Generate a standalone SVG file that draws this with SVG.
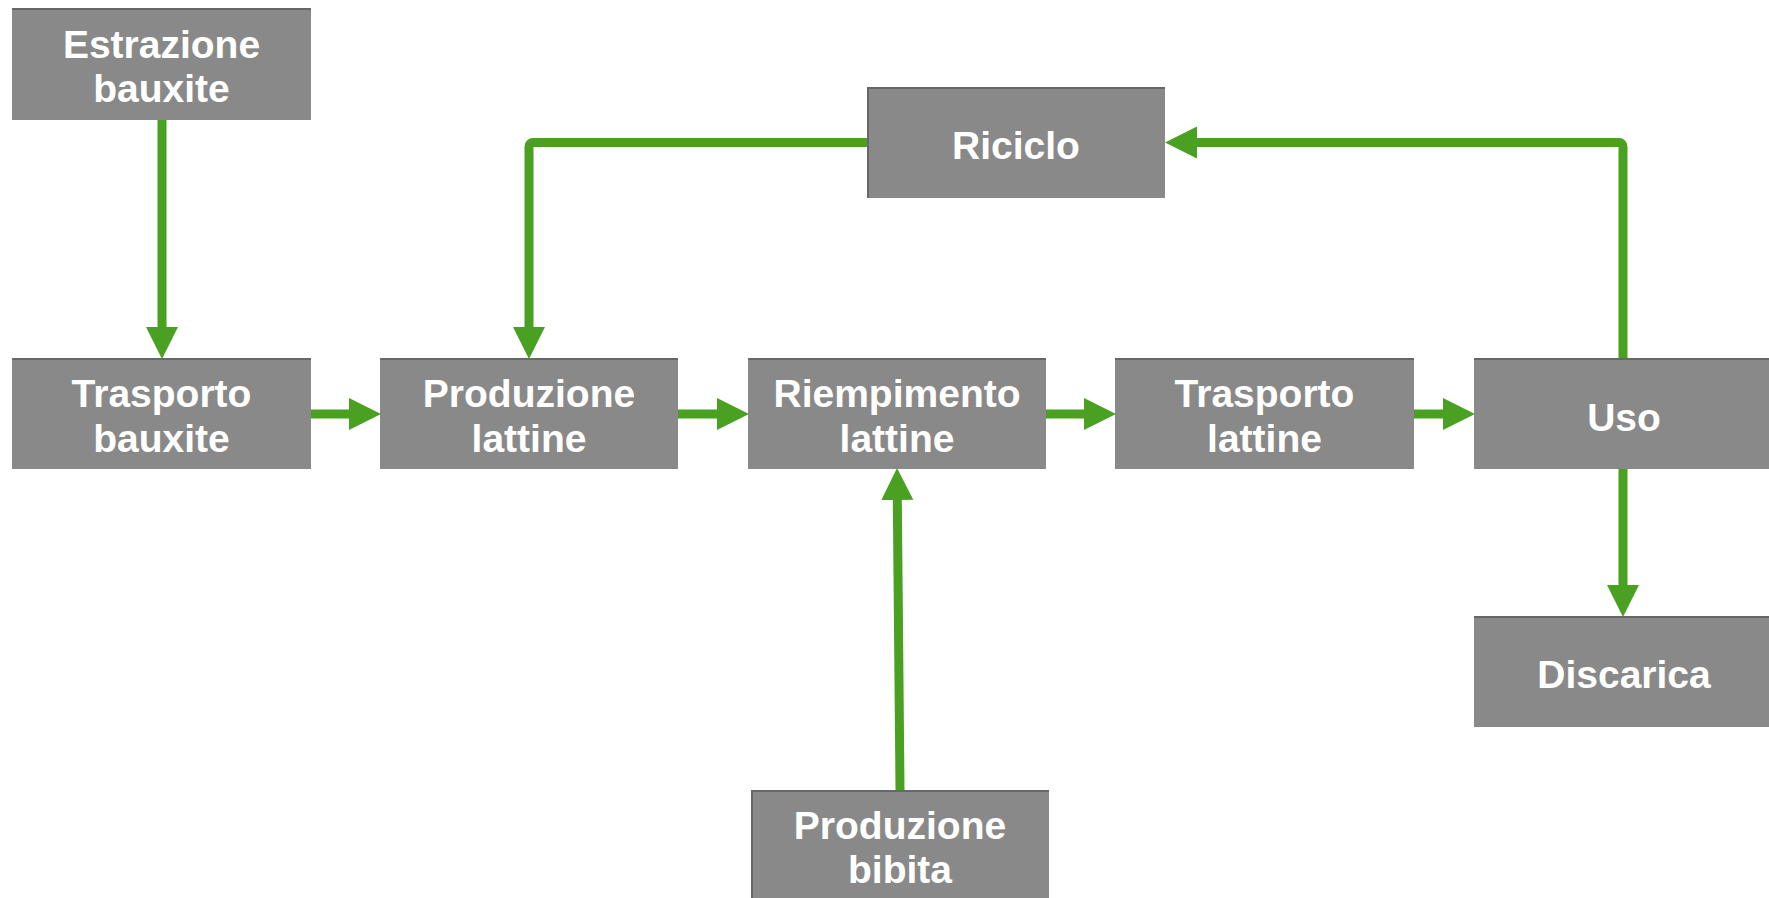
<svg xmlns="http://www.w3.org/2000/svg" width="1769" height="898" viewBox="0 0 1769 898">
  <style>
    .box { fill: #898989; }
    .edge { stroke: #676767; stroke-width: 2; fill: none; }
    .label { font-family: "Liberation Sans", Arial, Helvetica, sans-serif; font-weight: bold; font-size: 39px; fill: #ffffff; text-anchor: middle; }
    .flow { stroke: #49a021; stroke-width: 9; fill: none; stroke-linejoin: round; }
  </style>
  <defs>
    <marker id="head" markerUnits="userSpaceOnUse" markerWidth="33" markerHeight="33" viewBox="0 0 33 33" refX="1" refY="16" orient="auto">
      <path d="M0,0 L32,16 L0,32 Z" fill="#49a021"/>
    </marker>
  </defs>
  <rect width="1769" height="898" fill="#ffffff"/>

  <!-- process steps -->
  <g id="estrazione-bauxite">
    <rect class="box" x="12" y="8" width="299" height="112"/>
    <line class="edge" x1="12" y1="9" x2="311" y2="9"/>
    <text class="label" x="161.5" y="58">Estrazione</text>
    <text class="label" x="161.5" y="102">bauxite</text>
  </g>
  <g id="trasporto-bauxite">
    <rect class="box" x="12" y="358" width="299" height="111"/>
    <line class="edge" x1="12" y1="359" x2="311" y2="359"/>
    <text class="label" x="161.5" y="407">Trasporto</text>
    <text class="label" x="161.5" y="452">bauxite</text>
  </g>
  <g id="produzione-lattine">
    <rect class="box" x="380" y="358" width="298" height="111"/>
    <line class="edge" x1="380" y1="359" x2="678" y2="359"/>
    <text class="label" x="529" y="407">Produzione</text>
    <text class="label" x="529" y="452">lattine</text>
  </g>
  <g id="riempimento-lattine">
    <rect class="box" x="748" y="358" width="298" height="111"/>
    <line class="edge" x1="748" y1="359" x2="1046" y2="359"/>
    <text class="label" x="897" y="407">Riempimento</text>
    <text class="label" x="897" y="452">lattine</text>
  </g>
  <g id="trasporto-lattine">
    <rect class="box" x="1115" y="358" width="299" height="111"/>
    <line class="edge" x1="1115" y1="359" x2="1414" y2="359"/>
    <text class="label" x="1264.5" y="407">Trasporto</text>
    <text class="label" x="1264.5" y="452">lattine</text>
  </g>
  <g id="uso">
    <rect class="box" x="1474" y="358" width="300" height="111"/>
    <line class="edge" x1="1474" y1="359" x2="1774" y2="359"/>
    <text class="label" x="1624" y="431">Uso</text>
  </g>
  <g id="riciclo">
    <rect class="box" x="867" y="87" width="298" height="111"/>
    <line class="edge" x1="867" y1="88" x2="1165" y2="88"/>
    <line class="edge" x1="868" y1="87" x2="868" y2="198"/>
    <text class="label" x="1016" y="159">Riciclo</text>
  </g>
  <g id="discarica">
    <rect class="box" x="1474" y="616" width="300" height="111"/>
    <line class="edge" x1="1474" y1="617" x2="1774" y2="617"/>
    <text class="label" x="1624" y="688">Discarica</text>
  </g>
  <g id="produzione-bibita">
    <rect class="box" x="751" y="790" width="298" height="112"/>
    <line class="edge" x1="751" y1="791" x2="1049" y2="791"/>
    <line class="edge" x1="752" y1="790" x2="752" y2="898"/>
    <text class="label" x="900" y="839">Produzione</text>
    <text class="label" x="900" y="883">bibita</text>
  </g>

  <!-- material flows -->
  <g id="connectors">
    <path class="flow" marker-end="url(#head)" d="M162,120 V328"/>
    <path class="flow" marker-end="url(#head)" d="M311,414 H350"/>
    <path class="flow" marker-end="url(#head)" d="M678,414 H718"/>
    <path class="flow" marker-end="url(#head)" d="M1046,414 H1085"/>
    <path class="flow" marker-end="url(#head)" d="M1414,414 H1444"/>
    <path class="flow" marker-end="url(#head)" d="M867,142.5 H533 A4,4 0 0 0 529,146.5 V328"/>
    <path class="flow" marker-end="url(#head)" d="M1623,358 V146.5 A4,4 0 0 0 1619,142.5 H1196"/>
    <path class="flow" marker-end="url(#head)" d="M1623,469 V586"/>
    <path class="flow" marker-end="url(#head)" d="M900,790 L897.3,499"/>
  </g>
</svg>
